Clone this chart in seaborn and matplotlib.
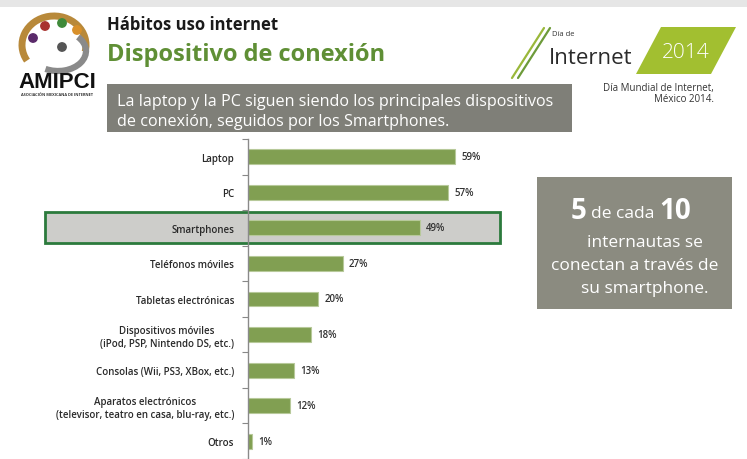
import matplotlib
matplotlib.use("Agg")
import matplotlib.pyplot as plt
from matplotlib.patches import Rectangle, Polygon, Arc, Circle
import seaborn as sns
import pandas as pd

categories = [
    "Laptop",
    "PC",
    "Smartphones",
    "Teléfonos móviles",
    "Tabletas electrónicas",
    "Dispositivos móviles\n(iPod, PSP, Nintendo DS, etc.)",
    "Consolas (Wii, PS3, XBox, etc.)",
    "Aparatos electrónicos\n(televisor, teatro en casa, blu-ray, etc.)",
    "Otros",
]
values = [59, 57, 49, 27, 20, 18, 13, 12, 1]

title = "Hábitos uso internet"
subtitle = "Dispositivo de conexión"
note_lines = ["La laptop y la PC siguen siendo los principales dispositivos",
              "de conexión, seguidos por los Smartphones."]

sns.set_theme(style="white")
plt.rcParams["font.family"] = ["Open Sans", "DejaVu Sans"]

W, H = 747, 460
fig = plt.figure(figsize=(W / 100, H / 100), dpi=100)
fig.patch.set_facecolor("white")

# Decoration layer in pixel coordinates (y grows downward)
bg = fig.add_axes([0, 0, 1, 1])
bg.set_xlim(0, W)
bg.set_ylim(H, 0)
bg.axis("off")

bg.add_patch(Rectangle((0, 0), W, 8, color="#e6e6e6", lw=0))

# Logo (AMIPCI)
bg.add_patch(Arc((54, 46), 64, 58, theta1=150, theta2=372, lw=5, color="#b8893a"))
bg.add_patch(Arc((58, 52), 56, 40, theta1=-35, theta2=125, lw=4.5, color="#8a8a8a"))
for (cx, cy, c) in [(33, 39, "#5a2a6a"), (45, 27, "#a8322e"), (62, 24, "#3f8a3a"),
                    (77, 31, "#d8902a"), (62, 48, "#555555")]:
    bg.add_patch(Circle((cx, cy), 4.2, color=c))
bg.text(57, 82, "AMIPCI", fontsize=16, fontweight="heavy", color="#111111",
        ha="center", va="center", family=["Liberation Sans", "DejaVu Sans"])
bg.text(57, 95, "ASOCIACIÓN MEXICANA DE INTERNET", fontsize=2.8, color="#333333",
        ha="center", va="center", fontweight="bold")

# Titles
bg.text(107, 25, title, fontsize=12, fontweight="bold", color="#1a1a1a",
        ha="left", va="center")
bg.text(107, 55, subtitle, fontsize=17, fontweight="bold", color="#5f8f35",
        ha="left", va="center")

# Día de Internet mark
bg.plot([512, 544], [79, 29], color="#9ab83a", lw=1.6)
bg.plot([518, 550], [79, 29], color="#6d9b3a", lw=1.6)
bg.text(552, 35, "Día de", fontsize=5.5, color="#333333", ha="left", va="center")
bg.text(549, 58, "Internet", fontsize=16, color="#2a2a2a", ha="left", va="center",
        fontweight="medium")
bg.add_patch(Polygon([(636, 75), (661, 28), (736, 28), (711, 75)],
                     closed=True, color="#a2bf30", lw=0))
bg.text(686, 53, "2014", fontsize=15, color="white", ha="center", va="center",
        fontweight="light")
bg.text(714, 88, "Día Mundial de Internet,", fontsize=7, color="#333333",
        ha="right", va="center")
bg.text(714, 100, "México 2014.", fontsize=7, color="#333333",
        ha="right", va="center")

# Note box
bg.add_patch(Rectangle((107, 85), 465, 48, color="#7f7f78", lw=0))
bg.text(117, 102, note_lines[0], fontsize=11.6, color="white", ha="left", va="center")
bg.text(117, 122, note_lines[1], fontsize=11.6, color="white", ha="left", va="center")

# Highlight band for Smartphones
bg.add_patch(Rectangle((45, 213), 455, 31, facecolor="#cdcdca",
                       edgecolor="#2b7a3c", lw=2))

# Side callout box
bg.add_patch(Rectangle((537, 178), 195, 132, color="#8b8b80", lw=0))
bg.text(571, 212, "5", fontsize=20, fontweight="bold", color="white",
        ha="left", va="center")
bg.text(591, 214, "de cada", fontsize=12.5, color="white", ha="left", va="center")
bg.text(659, 212, "10", fontsize=20, fontweight="bold", color="white",
        ha="left", va="center")
bg.text(645, 243, "internautas se", fontsize=12.5, color="white",
        ha="center", va="center")
bg.text(635, 266, "conectan a través de", fontsize=12.5, color="white",
        ha="center", va="center")
bg.text(645, 289, "su smartphone.", fontsize=12.5, color="white",
        ha="center", va="center")

# Bar chart
px_per_unit = 3.51
ax_left, ax_right = 248, 500
ax_top, ax_bottom = 140, 460
ax = fig.add_axes([ax_left / W, 1 - ax_bottom / H,
                   (ax_right - ax_left) / W, (ax_bottom - ax_top) / H])
ax.patch.set_alpha(0)

df = pd.DataFrame({"categoria": categories, "valor": values})
sns.barplot(data=df, x="valor", y="categoria", orient="h", color="#819f52",
            width=0.42, edgecolor="#b7c99a", linewidth=0.8, saturation=1, ax=ax)

ax.set_xlim(0, (ax_right - ax_left) / px_per_unit)
n = len(categories)
ax.set_ylim(-0.5 + (ax_bottom - ax_top) / 36.0, -0.5)

for i, v in enumerate(values):
    ax.text(v + 1.8, i, f"{v}%", fontsize=7, fontweight="semibold",
            color="#333333", ha="left", va="center")

ax.set_xlabel("")
ax.set_ylabel("")
ax.set_xticks([])
ax.set_yticks(range(n))
ax.set_yticklabels(categories, fontsize=7, fontweight="semibold", color="#2a2a2a",
                   ha="right", multialignment="center")
ax.tick_params(axis="y", which="major", length=0, pad=10)
ax.set_yticks([i + 0.5 for i in range(-1, n)], minor=True)
ax.tick_params(axis="y", which="minor", length=4, width=0.8, color="#888888",
               direction="out", left=True)
for s in ["top", "right", "bottom"]:
    ax.spines[s].set_visible(False)
ax.spines["left"].set_color("#8a8a8a")
ax.spines["left"].set_linewidth(1.0)

fig.savefig("out.png", dpi=100, facecolor="white")
